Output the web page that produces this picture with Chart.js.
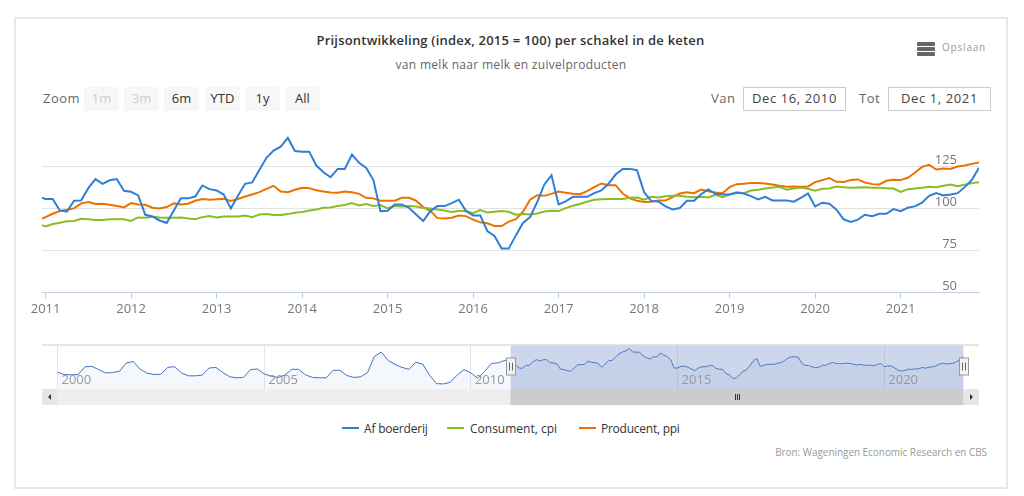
<!DOCTYPE html>
<html>
<head>
<meta charset="utf-8">
<script src="https://cdn.jsdelivr.net/npm/chart.js@4"></script>
<style>
  html, body { margin: 0; padding: 0; background: #fff; }
  body { width: 1024px; height: 496px; position: relative; overflow: hidden; font-family: "Open Sans", sans-serif; }
  .abs { position: absolute; white-space: nowrap; }
  #card { left: 14px; top: 17px; width: 990px; height: 468px; border: 2px solid #e8e8e8; }
  .btn { top: 87px; width: 35px; height: 24px; line-height: 22px; text-align: center; background: #f7f7f7; border-radius: 2px; font-size: 13px; color: #333; }
  .btn.off { color: #cccccc; }
  .date { top: 87px; height: 22px; line-height: 21px; border: 1px solid #cccccc; text-align: center; font-size: 13px; color: #444; letter-spacing: .6px; }
  .lab { color: #666; font-size: 13px; letter-spacing: .5px; }
  .swatch { top: 427px; width: 17px; height: 2px; }
  .leg { top: 420px; font-size: 12px; font-weight: 500; color: #333; }
  .bar { left: 917px; width: 18px; height: 4px; border-radius: 1px; background: #666; }
  canvas { position: absolute; display: block; }
</style>
</head>
<body>
<div class="abs" id="card"></div>
<div class="abs" style="left:0;width:1021px;top:31px;text-align:center;font-size:13px;font-weight:600;color:#333;letter-spacing:.2px">Prijsontwikkeling (index, 2015 = 100) per schakel in de keten</div>
<div class="abs" style="left:0;width:1022px;top:56px;text-align:center;font-size:12px;color:#666;letter-spacing:.3px">van melk naar melk en zuivelproducten</div>

<div class="abs bar" style="top:42px"></div><div class="abs bar" style="top:47px"></div><div class="abs bar" style="top:52px"></div>
<div class="abs" style="left:942px;top:40px;font-size:10px;color:#999;letter-spacing:.8px">Opslaan</div>

<div class="abs lab" style="left:43px;top:89px">Zoom</div>
<div class="abs btn off" style="left:84px">1m</div>
<div class="abs btn off" style="left:124px">3m</div>
<div class="abs btn" style="left:164px">6m</div>
<div class="abs btn" style="left:205px">YTD</div>
<div class="abs btn" style="left:245px">1y</div>
<div class="abs btn" style="left:285px">All</div>

<div class="abs lab" style="left:711px;top:89px">Van</div>
<div class="abs date" style="left:743px;width:101px">Dec 16, 2010</div>
<div class="abs lab" style="left:859px;top:89px">Tot</div>
<div class="abs date" style="left:888px;width:101px">Dec 1, 2021</div>

<canvas id="mainChart" width="1024" height="330" style="left:0;top:0"></canvas>
<canvas id="navChart" width="1024" height="70" style="left:0;top:340px"></canvas>

<div class="abs swatch" style="left:342px;background:#2f7ed8"></div>
<div class="abs leg" style="left:364px;letter-spacing:-.2px">Af boerderij</div>
<div class="abs swatch" style="left:447px;background:#8bbc21"></div>
<div class="abs leg" style="left:470px">Consument, cpi</div>
<div class="abs swatch" style="left:579px;background:#ee7100"></div>
<div class="abs leg" style="left:601px;letter-spacing:-.25px">Producent, ppi</div>
<div class="abs" style="right:37px;top:445px;font-size:10px;color:#999;letter-spacing:-.05px">Bron: Wageningen Economic Research en CBS</div>

<script>
// maandwaarden dec 2010 t/m dec 2021
const afBoerderij = [107.3,
  105.8,105.8,99,98.2,104.8,105,112.3,117.7,114.9,117,117.7,110.7,
  110.1,108,96.4,95.4,93,91.5,99,106.2,106.2,107.3,113.9,111.7,
  110.9,108.5,100.2,107.7,114.9,115.7,123.2,130.4,134.7,137.1,142.3,134.5,
  134.1,134.1,125.8,121.8,118.8,123.8,123.8,132.3,127.4,124.4,117.3,98.6,
  98.8,102.6,102.6,100.6,96.6,92.7,98.6,101.6,101.6,103.4,105.4,98.6,
  96,96,86.7,83.7,76.2,76.2,84.1,91.5,95,104,114.5,120,
  102.6,104.4,107.1,107.1,107.1,109.3,110.9,114.9,120.4,123.8,123.8,123,
  109.9,104.6,104.4,101.4,99.6,100.4,104.8,104.8,108.7,111.5,108.9,108.5,
  108.5,109.5,109.1,107.5,105.6,107.1,105,105,105,104.2,106.5,109.1,
  101.4,103.6,103,99.4,93.7,92.1,93.5,96.4,95.6,97,97,99.8,
  98.6,100.6,101.4,103.6,107.7,109.3,107.9,108.5,109.3,112.9,117.3,124.4];
const consument = [90.7,
  89.5,90.9,91.7,92.5,92.7,94,93.7,93.3,93.3,93.8,93.8,93.7,
  92.7,94.8,94.6,95.2,94.8,94.6,94.6,94.8,94.2,93.8,95,95.6,
  94.8,95.4,95.4,95.4,96,95,96.6,96.8,96.2,96.2,96.8,97.6,
  98,99,99.6,100.6,100.8,101.6,102.2,103.4,102,102.8,101.6,102.2,
  100.2,101.6,101.4,101.6,101.4,100.4,100.2,99.6,99,98,98.6,98.6,
  97.4,99.2,97.8,98.2,98.6,98.2,96.4,96.8,96.6,97.2,98.4,98.8,
  98.6,100.4,101.8,102.8,104.2,105.4,105.6,105.8,105.8,105.8,106.5,106.7,
  105.4,107.1,106.7,107.5,107.7,107.7,107.1,106.9,107.1,106.7,108.3,106.9,
  108.5,109.9,109.3,110.9,111.3,112.1,112.7,113.1,111.3,112.1,112.7,111.9,
  110.7,111.9,112.1,113.3,112.9,112.5,112.7,112.9,112.5,112.5,112.3,112.1,
  110.1,111.7,112.1,112.5,113.1,112.9,113.7,114.5,113.5,114.3,115.3,115.9];
const producent = [93.3,
  95,97,98.6,99.4,100.2,103.2,104,102.8,103,102.4,101.6,100.8,
  103.4,102.6,102.4,100.6,100.2,101,103.2,102.6,103,104.8,105.8,105.4,
  105.6,106,104.6,105.8,107.3,108.5,109.9,111.9,113.7,110.3,109.9,111.3,
  112.5,112.3,111.1,110.3,109.7,109.5,110.3,109.9,108.9,106.5,106.2,104.8,
  104.8,104.8,106.5,106.5,104.8,101,98.8,94.4,94.2,94.6,96,95.6,
  93.5,91.9,91.3,89.7,89.7,92.3,93.8,98.2,105.4,108.1,107.7,108.9,
  110.3,109.5,108.9,108.7,110.5,112.9,115.1,114.1,114.1,109.1,106.2,104.8,
  104,104.2,105,105,106.9,109.1,109.9,109.3,111.5,110.5,109.7,109.3,
  112.9,114.7,114.9,115.3,115.3,115.1,114.5,113.7,113.1,113.3,113.1,113.3,
  115.9,117.1,118.3,116.1,115.9,117.1,117.5,115.7,114.7,114.5,116.7,117.3,
  117.1,118.5,121.5,125,126.2,123.4,124,123.8,125.2,125.8,126.8,127.6];
const afBoerderijEerder = [
  89.4,84.3,83.6,84.3,101.7,102.4,95.2,87.9,88.7,91.6,110.4,113.3,
  95.9,87.2,84.3,85,100.2,101.7,87.9,81.4,81.4,82.9,98.8,100.2,
  88.7,79.2,77,77.8,95.2,96.6,85.8,80.7,77.8,82.9,95.9,95.9,
  83.6,77.8,77,77,93.7,93.7,82.1,77.8,79.2,88.7,124.9,134.3,
  115.5,106.8,100.2,95.9,111.8,107.5,82.9,64,63.3,66.9,82.9,95.2,
  87.9,75.6,91.6,109,110.4,116.2];
const jaren = ['2011','2012','2013','2014','2015','2016','2017','2018','2019','2020','2021'];
const navJaren = ['2000','2005','2010','2015','2020'];
const yLabels = [50, 75, 100, 125];

const font = '"Open Sans", sans-serif';
const JAN_2011 = 132; // maanden sinds jan 2000

function lineSet(label, values, color) {
  return {
    label: label,
    data: values.map((v, i) => ({ x: i - 1, y: v })),
    borderColor: color,
    backgroundColor: color,
    borderWidth: 2,
    pointRadius: 0,
    tension: 0
  };
}

new Chart(document.getElementById('mainChart'), {
  type: 'line',
  data: {
    datasets: [
      lineSet('Af boerderij', afBoerderij, '#2f7ed8'),
      lineSet('Consument, cpi', consument, '#8bbc21'),
      lineSet('Producent, ppi', producent, '#ee7100')
    ]
  },
  options: {
    responsive: false,
    animation: false,
    layout: { padding: { left: 42, right: 45, top: 125, bottom: 7.5 } },
    plugins: { legend: { display: false }, tooltip: { enabled: false } },
    scales: {
      x: {
        type: 'linear',
        min: -0.5,
        max: 131,
        afterFit: s => { s.height = 30; },
        border: { color: '#c0d0e0' },
        grid: { drawOnChartArea: false, color: '#c0d0e0', tickLength: 6 },
        ticks: {
          stepSize: 12,
          includeBounds: false,
          maxRotation: 0,
          autoSkip: false,
          padding: 3,
          color: '#777',
          font: { family: font, size: 13 },
          callback: v => jaren[v / 12]
        }
      },
      y: {
        position: 'right',
        min: 50,
        max: 150,
        afterFit: s => { s.width = 0; s.paddingTop = 0; s.paddingBottom = 0; },
        border: { display: false },
        grid: { color: '#e3e3e3', drawTicks: false },
        ticks: {
          stepSize: 25,
          mirror: true,
          padding: -22,
          color: '#777',
          font: { family: font, size: 13, lineHeight: 1 },
          // lege tweede regel zet het label boven de gridlijn
          callback: v => yLabels.includes(v) ? [String(v), ''] : null
        }
      }
    }
  }
});

const navigatorParts = {
  id: 'navigatorParts',
  afterDraw(chart) {
    const { ctx, chartArea: a, scales: { x } } = chart;
    const from = x.getPixelForValue(JAN_2011 - 0.5);
    const to = x.getPixelForValue(JAN_2011 + 131);
    const sbTop = a.bottom, sbH = 16;
    ctx.save();
    // selectie
    ctx.fillStyle = 'rgba(102,133,194,0.33)';
    ctx.fillRect(from, a.top, to - from, a.bottom - a.top);
    // jaartallen
    ctx.fillStyle = '#999';
    ctx.font = '13px ' + font;
    ctx.textBaseline = 'middle';
    navJaren.forEach((t, i) => ctx.fillText(t, x.getPixelForValue(i * 60) + 4, a.bottom - 9));
    // lijn boven
    ctx.fillStyle = '#cccccc';
    ctx.fillRect(42, a.top - 1, 937, 1);
    // scrollbar
    ctx.fillStyle = '#eeeeee';
    ctx.fillRect(a.left, sbTop, a.right - a.left, sbH);
    ctx.fillStyle = '#cccccc';
    ctx.fillRect(from, sbTop, to - from, sbH);
    ctx.fillStyle = '#e6e6e6';
    ctx.fillRect(42, sbTop, a.left - 42, sbH);
    ctx.fillRect(a.right, sbTop, 979 - a.right, sbH);
    ctx.fillStyle = '#333';
    ctx.beginPath(); ctx.moveTo(48, sbTop + 8); ctx.lineTo(51, sbTop + 5); ctx.lineTo(51, sbTop + 11); ctx.fill();
    ctx.beginPath(); ctx.moveTo(973, sbTop + 8); ctx.lineTo(970, sbTop + 5); ctx.lineTo(970, sbTop + 11); ctx.fill();
    [-2, 0, 2].forEach(d => ctx.fillRect(Math.round((from + to) / 2) + d, sbTop + 5, 1, 6));
    // handvatten
    [from, to].forEach(p => {
      ctx.fillStyle = '#f2f2f2';
      ctx.strokeStyle = '#999';
      ctx.fillRect(Math.round(p) - 4.5, a.top + 12.5, 9, 17);
      ctx.strokeRect(Math.round(p) - 4.5, a.top + 12.5, 9, 17);
      ctx.strokeStyle = '#666';
      ctx.beginPath();
      ctx.moveTo(Math.round(p) - 1.5, a.top + 17); ctx.lineTo(Math.round(p) - 1.5, a.top + 25);
      ctx.moveTo(Math.round(p) + 1.5, a.top + 17); ctx.lineTo(Math.round(p) + 1.5, a.top + 25);
      ctx.stroke();
    });
    ctx.restore();
  }
};

new Chart(document.getElementById('navChart'), {
  type: 'line',
  data: {
    datasets: [{
      label: 'Af boerderij',
      data: afBoerderijEerder.map((v, i) => ({ x: i * 2, y: v }))
        .concat(afBoerderij.slice(1).map((v, i) => ({ x: JAN_2011 + i, y: v }))),
      borderColor: '#4572c4',
      borderWidth: 1,
      backgroundColor: 'rgba(69,114,196,0.06)',
      fill: 'start',
      pointRadius: 0,
      tension: 0
    }]
  },
  options: {
    responsive: false,
    animation: false,
    layout: { padding: { left: 57.5, right: 60.5, top: 5.5, bottom: 21 } },
    plugins: { legend: { display: false }, tooltip: { enabled: false } },
    scales: {
      x: {
        type: 'linear',
        min: 0,
        max: 263,
        afterFit: s => { s.height = 0; },
        border: { display: false },
        grid: { color: '#e6e6e6', drawTicks: false },
        ticks: { display: false, stepSize: 60, includeBounds: false }
      },
      y: {
        min: 52,
        max: 149,
        display: false
      }
    }
  },
  plugins: [navigatorParts]
});
</script>
</body>
</html>
